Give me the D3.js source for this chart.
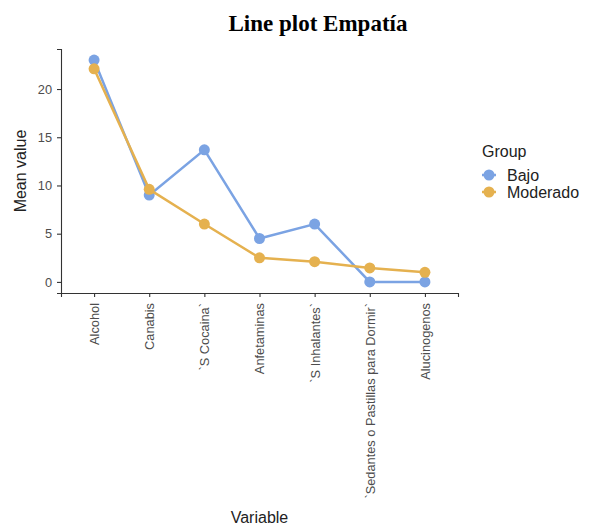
<!DOCTYPE html>
<html>
<head>
<meta charset="utf-8">
<script src="https://cdn.jsdelivr.net/npm/d3@7"></script>
<style>
  body { margin: 0; background: #fff; }
  svg { display: block; font-family: "Liberation Sans", Arial, sans-serif; }
</style>
</head>
<body>
<div id="chart"></div>
<script>
// data
const categories = ["Alcohol", "Canabis", "`S Cocaina`", "Anfetaminas", "`S Inhalantes`",
  "`Sedantes o Pastillas para Dormir`", "Alucinogenos"];
const groups = ["Bajo", "Moderado"];
const bajoValues = [23.0, 9.0, 13.7, 4.5, 6.0, 0.0, 0.0];
const moderadoValues = [22.1, 9.6, 6.0, 2.5, 2.1, 1.45, 1.0];
const yTicks = [0, 5, 10, 15, 20];

const colors = { Bajo: "#7ba3e3", Moderado: "#e5b14f" };

const W = 591, H = 532;
const margin = { left: 61, right: 133, top: 49, bottom: 239 };
const width = W - margin.left - margin.right;
const height = H - margin.top - margin.bottom;

const svg = d3.select("#chart").append("svg")
  .attr("width", W)
  .attr("height", H);

svg.append("text")
  .attr("x", 318)
  .attr("y", 31)
  .attr("text-anchor", "middle")
  .style("font-family", "'Liberation Serif', 'Times New Roman', serif")
  .style("font-weight", "bold")
  .style("font-size", "23px")
  .attr("fill", "#000")
  .text("Line plot Empatía");

const g = svg.append("g").attr("transform", `translate(${margin.left},${margin.top})`);

// ggplot style expansion: discrete 0.6 units, continuous 5%
const x = d3.scaleLinear()
  .domain([0.4, categories.length + 0.6])
  .range([0, width]);
const yMax = d3.max([...bajoValues, ...moderadoValues]);
const y = d3.scaleLinear()
  .domain([-0.05 * yMax, yMax * 1.05])
  .range([height, 0]);

// axes
const xAxis = g.append("g")
  .attr("transform", `translate(0,${height})`)
  .call(d3.axisBottom(x)
    .tickValues(d3.range(1, categories.length + 1))
    .tickFormat(i => categories[i - 1])
    .tickSizeOuter(0)
    .tickSize(4));
xAxis.select(".domain").attr("stroke", "#333").attr("stroke-width", 1.1);
xAxis.selectAll(".tick line").attr("stroke", "#333").attr("stroke-width", 1.1);
xAxis.selectAll(".tick text")
  .attr("fill", "#4d4d4d")
  .style("font-size", "12.8px")
  .attr("text-anchor", "end")
  .attr("dy", "0.35em")
  .attr("transform", "translate(0,10) rotate(-90)")
  .attr("x", 0)
  .attr("y", 0);

const yAxis = g.append("g")
  .call(d3.axisLeft(y).tickValues(yTicks).tickSizeOuter(0).tickSize(4));
yAxis.select(".domain").attr("stroke", "#333").attr("stroke-width", 1.1);
yAxis.selectAll(".tick line").attr("stroke", "#333").attr("stroke-width", 1.1);
yAxis.selectAll(".tick text")
  .attr("fill", "#4d4d4d")
  .style("font-size", "12.8px")
  .attr("x", -9);

// axis titles
svg.append("text")
  .attr("transform", `translate(26,${margin.top + height / 2}) rotate(-90)`)
  .attr("text-anchor", "middle")
  .style("font-size", "16px")
  .attr("fill", "#222")
  .text("Mean value");

svg.append("text")
  .attr("x", margin.left + width / 2)
  .attr("y", 523)
  .attr("text-anchor", "middle")
  .style("font-size", "16px")
  .attr("fill", "#222")
  .text("Variable");

// series
const series = [
  { name: "Bajo", values: bajoValues },
  { name: "Moderado", values: moderadoValues }
];

const line = d3.line()
  .x((d, i) => x(i + 1))
  .y(d => y(d));

series.forEach(s => {
  g.append("path")
    .datum(s.values)
    .attr("fill", "none")
    .attr("stroke", colors[s.name])
    .attr("stroke-width", 2.5)
    .attr("d", line);

  g.selectAll(`.dot-${s.name}`)
    .data(s.values)
    .join("circle")
    .attr("class", `dot-${s.name}`)
    .attr("cx", (d, i) => x(i + 1))
    .attr("cy", d => y(d))
    .attr("r", 5.5)
    .attr("fill", colors[s.name]);
});

// legend
const legend = svg.append("g").attr("transform", "translate(482,0)");
legend.append("text")
  .attr("x", 0)
  .attr("y", 157)
  .style("font-size", "16px")
  .attr("fill", "#222")
  .text("Group");

groups.forEach((name, i) => {
  const ly = 175 + i * 17;
  legend.append("line")
    .attr("x1", 0).attr("x2", 14)
    .attr("y1", ly).attr("y2", ly)
    .attr("stroke", colors[name])
    .attr("stroke-width", 2.5);
  legend.append("circle")
    .attr("cx", 7).attr("cy", ly)
    .attr("r", 5.5)
    .attr("fill", colors[name]);
  legend.append("text")
    .attr("x", 25)
    .attr("y", ly + 5.5)
    .style("font-size", "16px")
    .attr("fill", "#222")
    .text(name);
});
</script>
</body>
</html>
